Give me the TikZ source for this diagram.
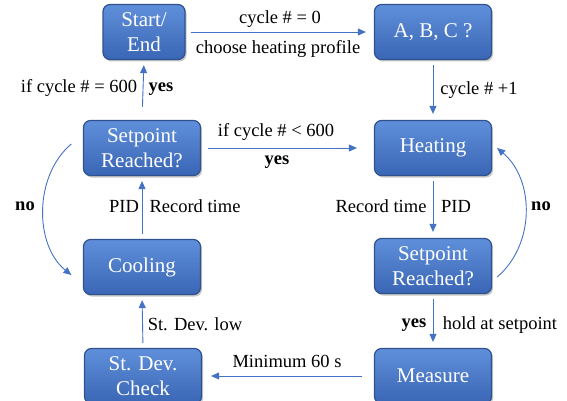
\documentclass[tikz,border=0pt]{standalone}
\usepackage{fontspec}
\setmainfont{Liberation Serif}
\usetikzlibrary{arrows.meta,shadows}
\definecolor{boxtop}{HTML}{5F8FDA}
\definecolor{boxbot}{HTML}{3A66B5}
\definecolor{boxline}{HTML}{2F528F}
\definecolor{arrowblue}{HTML}{4472C4}
\begin{document}
\begin{tikzpicture}[x=1pt,y=-1pt,
 box/.style={rounded corners=7pt, draw=boxline, line width=1.2pt, top color=boxtop, bottom color=boxbot,
   minimum width=117pt, minimum height=55pt, text=white, align=center,
   font=\fontsize{21}{25}\selectfont, inner sep=0pt,
   drop shadow={shadow xshift=1.5pt, shadow yshift=-2pt, fill=black!45}},
 flow/.style={draw=arrowblue, line width=0.9pt, -{Triangle[length=8pt,width=7pt]}},
 lbl/.style={font=\fontsize{18.5}{22}\selectfont, inner sep=0pt},
 blbl/.style={font=\fontsize{18.5}{22}\selectfont\bfseries, inner sep=0pt}]
\useasboundingbox (0,0) rectangle (567,401);
\node[box, minimum width=82pt] (start) at (144,32) {Start/\\End};
\node[box] (abc) at (433,32) {A, B, C ?};
\node[box] (spl) at (142,148) {Setpoint\\Reached?};
\node[box] (heat) at (433,148) {Heating};
\node[box] (spr) at (433,266) {Setpoint\\Reached?};
\node[box] (cool) at (142,267) {Cooling};
\node[box] (sdc) at (143,376) {St. Dev.\\Check};
\node[box] (meas) at (433,376) {Measure};

\draw[flow, shorten <=5pt, shorten >=8pt] (start.east) -- (abc.west);
\draw[flow, shorten <=5pt, shorten >=6pt] (abc.south) -- (heat.north);
\draw[flow, shorten <=7pt, shorten >=17pt] (spl.east) -- (heat.west);
\draw[flow, shorten <=13pt, shorten >=5pt] (spl.north) -- (start.south);
\draw[flow, shorten <=5pt, shorten >=6pt] (heat.south) -- (spr.north);
\draw[flow, shorten <=5pt, shorten >=6pt] (spr.south) -- (meas.north);
\draw[flow, shorten <=12pt, shorten >=9pt] (meas.west) -- (sdc.east);
\draw[flow, shorten <=5pt, shorten >=5pt] (sdc.north) -- (cool.south);
\draw[flow, shorten <=5pt, shorten >=5pt] (cool.north) -- (spl.south);
\draw[flow] ([xshift=5pt,yshift=-11pt]spr.east) .. controls (535,245) and (535,180) .. ([xshift=5pt]heat.east);
\draw[flow] ([xshift=-11.5pt,yshift=4pt]spl.west) .. controls (34,175) and (34,245) .. ([xshift=-11.5pt,yshift=-8pt]cool.west);

\node[lbl] (l1) at (280,19) {cycle \# = 0};
\node[lbl] (l2) at (278,49) {choose heating profile};
\node[lbl] (l3) at (479,90) {cycle \# +1};
\node[lbl] (l4) at (79,88) {if cycle \# = 600};
\node[blbl] (l5) at (161,89) {yes};
\node[lbl] (l6) at (276,132) {if cycle \# < 600};
\node[blbl] (l7) at (277,162) {yes};
\node[lbl] (l8) at (124,206) {PID};
\node[lbl] (l9) at (195,206) {Record time};
\node[lbl] (l10) at (381,206) {Record time};
\node[lbl] (l11) at (456,206) {PID};
\node[blbl] (l12) at (25,206) {no};
\node[blbl] (l13) at (541,206) {no};
\node[blbl] (l14) at (414,325) {yes};
\node[lbl] (l15) at (500,325) {hold at setpoint};
\node[lbl] (l16) at (195,324) {St. Dev. low};
\node[lbl] (l17) at (287,361) {Minimum 60 s};
\end{tikzpicture}
\end{document}
